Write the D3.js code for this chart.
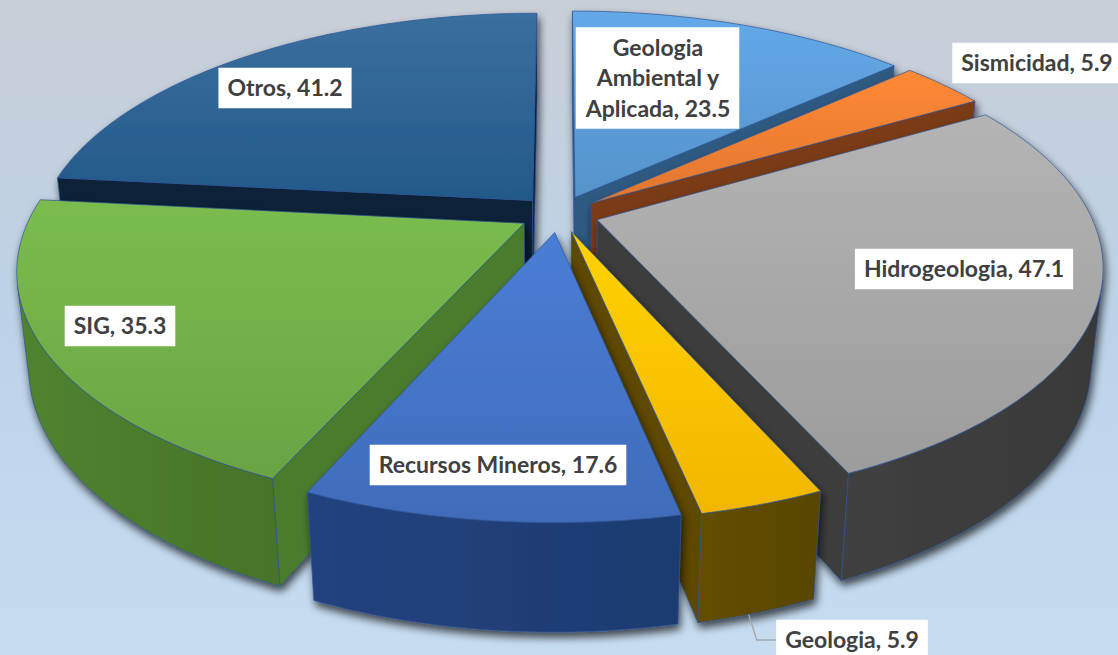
<!DOCTYPE html>
<html>
<head>
<meta charset="utf-8">
<script src="https://cdn.jsdelivr.net/npm/d3@7"></script>
<style>
  body { margin: 0; overflow: hidden; }
  text { font-family: Lato, "Open Sans", sans-serif; font-weight: 700; }
</style>
</head>
<body>
<div id="chart"></div>
<script>
// data
const categories = ["Geologia Ambiental y Aplicada", "Sismicidad", "Hidrogeologia", "Geologia", "Recursos Mineros", "SIG", "Otros"];
const values = [23.5, 5.9, 47.1, 5.9, 17.6, 35.3, 41.2];

// colours (top face / side faces)
const topColors  = ["#5b9bd5", "#ed7d31", "#a5a5a5", "#ffc000", "#4472c4", "#70ad47", "#255e91"];
const sideColors = ["#2e5a82", "#7a3a13", "#3d3d3d", "#5e4a00", "#203f78", "#4c7c2d", "#0c2139"];

// label placement: centre x, centre y, wrap width
const labelLayout = [[658, 78, 160], [1037, 63, 999], [964, 269, 999], [852, 640, 999], [498, 465, 999], [120, 326, 999], [285, 88, 999]];

const W = 1118, H = 655;

// 3D view
const cx = 559, cy = 214, D = 4.7, sinA = 0.461, cosA = Math.sqrt(1 - sinA * sinA);
const f = 493 * D, thick = 0.22, explode = 0.081;

function project(x, y, d) {
    const dist = D + d * cosA - y * sinA;
    return [cx + f * x / dist, cy - f * (y * cosA + d * sinA) / dist];
}

const svg = d3.select("#chart").append("svg")
    .attr("width", W).attr("height", H)
    .attr("viewBox", `0 0 ${W} ${H}`);

const defs = svg.append("defs");

const bg = defs.append("linearGradient").attr("id", "bg")
    .attr("x1", 0).attr("y1", 0).attr("x2", 0).attr("y2", 1);
[[0, "#c9cfd7"], [0.5, "#bcd3e9"], [1, "#c6dcf1"]]
    .forEach(([o, c]) => bg.append("stop").attr("offset", o).attr("stop-color", c));

const shadow = defs.append("filter").attr("id", "shadow")
    .attr("x", "-10%").attr("y", "-10%").attr("width", "130%").attr("height", "130%");
shadow.append("feDropShadow").attr("dx", 2).attr("dy", 5).attr("stdDeviation", 4)
    .attr("flood-color", "#000").attr("flood-opacity", 0.7);

svg.append("rect").attr("width", W).attr("height", H).attr("fill", "url(#bg)");

// gradients per slice
topColors.forEach((c, i) => {
    const g = defs.append("linearGradient").attr("id", "top" + i)
        .attr("x1", 0).attr("y1", 0).attr("x2", 0).attr("y2", 1);
    const hi = d3.interpolateRgb(d3.color(c).brighter(0.25), "#8090a0")(i === 6 ? 0.2 : 0);
    g.append("stop").attr("offset", 0).attr("stop-color", hi);
    g.append("stop").attr("offset", 1).attr("stop-color", d3.color(c).darker(0.15));
    const s = defs.append("linearGradient").attr("id", "side" + i)
        .attr("x1", 0).attr("y1", 0).attr("x2", 1).attr("y2", 0);
    s.append("stop").attr("offset", 0).attr("stop-color", d3.color(sideColors[i]).brighter(0.15));
    s.append("stop").attr("offset", 1).attr("stop-color", d3.color(sideColors[i]).darker(0.2));
});

const pie = d3.pie().sort(null).value(d => d.value);
const slices = pie(categories.map((c, i) => ({ name: c, value: values[i], idx: i })));

const poly = d3.line().curve(d3.curveLinearClosed);
const step = Math.PI / 180;

// camera position in world coordinates
const cam = [0, D * sinA, -D * cosA];

function arcPts(a0, a1, ox, od, y) {
    const n = Math.max(2, Math.ceil((a1 - a0) / step));
    return d3.range(n + 1).map(k => {
        const t = a0 + (a1 - a0) * k / n;
        return project(ox + Math.sin(t), y, od + Math.cos(t));
    });
}

slices.forEach(s => {
    s.mid = (s.startAngle + s.endAngle) / 2;
    s.ox = explode * Math.sin(s.mid);
    s.od = explode * Math.cos(s.mid);
    s.depth = s.od + 0.6 * Math.cos(s.mid);
});

const order = slices.slice().sort((a, b) => b.depth - a.depth);

const pieG = svg.append("g");
const stroke = "#2f5597";

order.forEach(s => {
    const i = s.data.idx;
    const g = pieG.append("g").attr("filter", "url(#shadow)");
    const { ox, od } = s;
    const a0 = s.startAngle, a1 = s.endAngle;

    // radial cut faces
    const faces = [
        { a: a0, n: [-Math.cos(a0), Math.sin(a0)] },
        { a: a1, n: [Math.cos(a1), -Math.sin(a1)] }
    ];
    faces.forEach(fc => {
        const vis = fc.n[0] * (cam[0] - ox) + fc.n[1] * (cam[2] - od);
        if (vis <= 0) return;
        const pts = [
            project(ox, 0, od),
            project(ox + Math.sin(fc.a), 0, od + Math.cos(fc.a)),
            project(ox + Math.sin(fc.a), -thick, od + Math.cos(fc.a)),
            project(ox, -thick, od)
        ];
        g.append("path").attr("d", poly(pts))
            .attr("fill", sideColors[i])
            .attr("stroke", stroke).attr("stroke-width", 0.7);
    });

    // outer wall, only the parts facing the camera
    const n = Math.max(2, Math.ceil((a1 - a0) / step));
    const runs = [];
    let cur = null;
    for (let k = 0; k < n; k++) {
        const t0 = a0 + (a1 - a0) * k / n, t1 = a0 + (a1 - a0) * (k + 1) / n;
        const tm = (t0 + t1) / 2;
        const vis = Math.sin(tm) * (cam[0] - ox - Math.sin(tm)) +
                    Math.cos(tm) * (cam[2] - od - Math.cos(tm));
        if (vis > 0) {
            if (!cur) { cur = [t0, t1]; runs.push(cur); } else cur[1] = t1;
        } else cur = null;
    }
    runs.forEach(([t0, t1]) => {
        const top = arcPts(t0, t1, ox, od, 0);
        const bot = arcPts(t0, t1, ox, od, -thick).reverse();
        g.append("path").attr("d", poly(top.concat(bot)))
            .attr("fill", `url(#side${i})`)
            .attr("stroke", stroke).attr("stroke-width", 0.7);
    });

    // top face
    const topPts = [project(ox, 0, od)].concat(arcPts(a0, a1, ox, od, 0));
    g.append("path").attr("d", poly(topPts))
        .attr("fill", `url(#top${i})`)
        .attr("stroke", stroke).attr("stroke-width", 0.7);
});

// labels
const fontSize = 23, lineH = 30.5;
const labelG = svg.append("g");

slices.forEach(s => {
    const i = s.data.idx;
    const [lx, ly, wrap] = labelLayout[i];
    const txt = `${s.data.name}, ${s.data.value}`;
    const g = labelG.append("g");
    const rect = g.append("rect").attr("fill", "#fff");
    const t = g.append("text")
        .attr("font-size", fontSize)
        .attr("fill", "#404040")
        .attr("text-anchor", "middle");

    // word wrap
    const words = txt.split(" ");
    const lines = [];
    let line = [];
    words.forEach(w => {
        const test = line.concat(w).join(" ");
        const probe = t.append("tspan").text(test);
        const wd = probe.node().getComputedTextLength();
        probe.remove();
        if (wd > wrap && line.length) { lines.push(line.join(" ")); line = [w]; }
        else line.push(w);
    });
    lines.push(line.join(" "));

    const y0 = ly - (lines.length - 1) * lineH / 2;
    lines.forEach((l, k) => {
        t.append("tspan").attr("x", lx).attr("y", y0 + k * lineH)
            .attr("dy", "0.35em").text(l);
    });
    const bb = t.node().getBBox();
    const padX = 9, padY = 3;
    rect.attr("x", bb.x - padX).attr("y", ly - lines.length * lineH / 2 - padY - 2)
        .attr("width", bb.width + 2 * padX)
        .attr("height", lines.length * lineH + 2 * padY + 4);

    // leader line for the small bottom label
    if (s.data.name === "Geologia") {
        const a = s.mid + 0.15 * (s.endAngle - s.mid);
        const p = project(s.ox + Math.sin(a), -thick, s.od + Math.cos(a));
        const left = bb.x - padX;
        labelG.insert("path", ":first-child")
            .attr("d", `M${p[0]},${p[1]}L${p[0] + 8},${ly}L${left},${ly}`)
            .attr("fill", "none").attr("stroke", "#a6a6a6").attr("stroke-width", 1.3);
    }
});
</script>
</body>
</html>
